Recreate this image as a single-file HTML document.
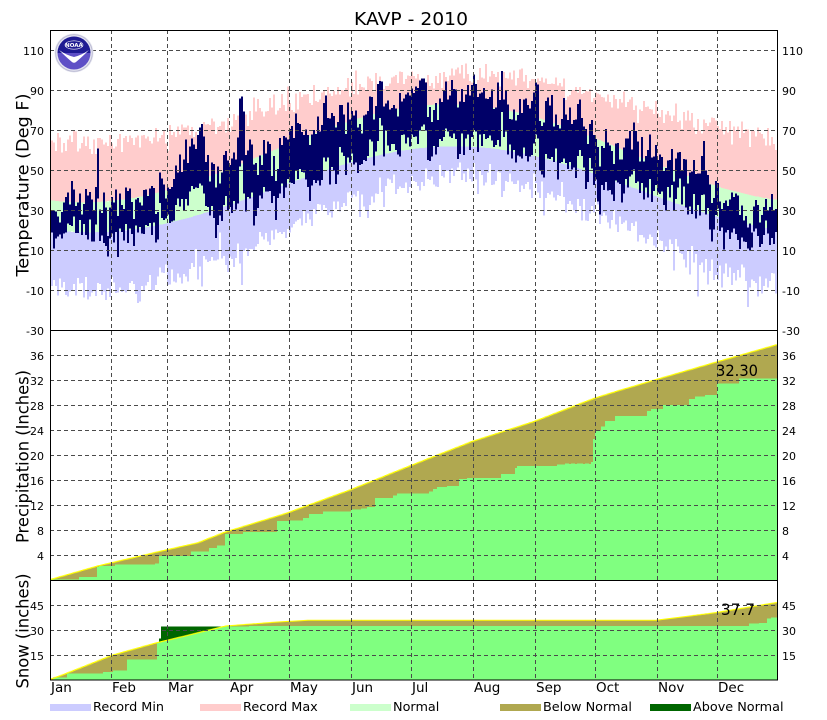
<!DOCTYPE html>
<html>
<head>
<meta charset="utf-8">
<style>
html,body{margin:0;padding:0;background:#fff;}
svg{display:block;font-family:"DejaVu Sans","Liberation Sans",sans-serif;}
</style>
</head>
<body>
<svg id="c" width="827" height="720" viewBox="0 0 827 720" xmlns="http://www.w3.org/2000/svg">
<rect x="0" y="0" width="827" height="720" fill="#fff"/>
<g id="data" shape-rendering="crispEdges"></g>
<g id="yl" fill="none" stroke="#ffff00" stroke-width="1"></g>

<!-- gridlines -->
<g stroke="#4a4a4a" stroke-width="1" stroke-dasharray="4,3" fill="none" shape-rendering="crispEdges">
  <path d="M111.5,30V680M167.5,30V680M229.5,30V680M289.5,30V680M351.5,30V680M411.5,30V680M473.5,30V680M535.5,30V680M595.5,30V680M657.5,30V680M717.5,30V680"/>
  <path d="M50,50.5H777M50,90.5H777M50,130.5H777M50,170.5H777M50,210.5H777M50,250.5H777M50,290.5H777"/>
  <path d="M50,355.5H777M50,380.5H777M50,405.5H777M50,430.5H777M50,455.5H777M50,480.5H777M50,505.5H777M50,530.5H777M50,555.5H777"/>
  <path d="M50,605.5H777M50,630.5H777M50,655.5H777"/>
</g>

<!-- frame -->
<g stroke="#000" stroke-width="1.2" fill="none" shape-rendering="crispEdges">
  <rect x="50.5" y="30.5" width="727" height="649.5"/>
  <path d="M50,330.5H777.5M50,580.5H777.5"/>
</g>

<!-- NOAA logo -->
<g transform="translate(74,53)">
  <circle r="19.5" fill="#e4e4f0"/>
  <circle r="18.3" fill="none" stroke="#b8b8d0" stroke-width="0.8"/>
  <circle r="16.5" fill="#5e4fc6"/>
  <path d="M-16.5,0 A16.5,16.5 0 0 1 16.5,0 Z" fill="#1e1a92"/>
  <path d="M-15,-3 Q-8,4 -2,9 Q0,10.5 2,9 Q8,4 15,-3 Q8,2 0,4 Q-8,2 -15,-3 Z" fill="#fff"/>
  <ellipse cx="0" cy="-8" rx="9" ry="4.2" fill="#1e1a92" stroke="#fff" stroke-width="0.6"/>
  <text x="0" y="-6" font-size="5.5" font-weight="bold" fill="#fff" text-anchor="middle">NOAA</text>
</g>

<!-- title -->
<text x="411" y="25" font-size="18" text-anchor="middle" textLength="114" lengthAdjust="spacingAndGlyphs" fill="#000">KAVP - 2010</text>

<!-- y axis titles -->
<text transform="translate(28.5,185) rotate(-90)" font-size="17" text-anchor="middle" textLength="183" lengthAdjust="spacingAndGlyphs" fill="#000">Temperature (Deg F)</text>
<text transform="translate(28.5,456.5) rotate(-90)" font-size="17" text-anchor="middle" textLength="173" lengthAdjust="spacingAndGlyphs" fill="#000">Precipitation (Inches)</text>
<text transform="translate(28.5,631) rotate(-90)" font-size="17" text-anchor="middle" textLength="115" lengthAdjust="spacingAndGlyphs" fill="#000">Snow (inches)</text>

<!-- left tick labels -->
<g font-size="11" text-anchor="end" fill="#000">
  <text x="44" y="55">110</text><text x="44" y="95">90</text><text x="44" y="135">70</text><text x="44" y="175">50</text>
  <text x="44" y="215">30</text><text x="44" y="255">10</text><text x="44" y="295">-10</text><text x="44" y="335">-30</text>
  <text x="44" y="360">36</text><text x="44" y="385">32</text><text x="44" y="410">28</text><text x="44" y="435">24</text>
  <text x="44" y="460">20</text><text x="44" y="485">16</text><text x="44" y="510">12</text><text x="44" y="535">8</text>
  <text x="44" y="560">4</text>
  <text x="44" y="610">45</text><text x="44" y="635">30</text><text x="44" y="660">15</text>
</g>
<!-- right tick labels -->
<g font-size="11" text-anchor="start" fill="#000">
  <text x="782" y="55">110</text><text x="782" y="95">90</text><text x="782" y="135">70</text><text x="782" y="175">50</text>
  <text x="782" y="215">30</text><text x="782" y="255">10</text><text x="782" y="295">-10</text><text x="782" y="335">-30</text>
  <text x="782" y="360">36</text><text x="782" y="385">32</text><text x="782" y="410">28</text><text x="782" y="435">24</text>
  <text x="782" y="460">20</text><text x="782" y="485">16</text><text x="782" y="510">12</text><text x="782" y="535">8</text>
  <text x="782" y="560">4</text>
  <text x="782" y="610">45</text><text x="782" y="635">30</text><text x="782" y="660">15</text>
</g>

<!-- month labels -->
<g font-size="13.5" fill="#000">
  <text x="51" y="692">Jan</text><text x="112" y="692">Feb</text><text x="168" y="692">Mar</text>
  <text x="230" y="692">Apr</text><text x="290" y="692">May</text><text x="352" y="692">Jun</text>
  <text x="412" y="692">Jul</text><text x="474" y="692">Aug</text><text x="536" y="692">Sep</text>
  <text x="596" y="692">Oct</text><text x="658" y="692">Nov</text><text x="718" y="692">Dec</text>
</g>

<!-- value labels -->
<text x="716" y="376" font-size="16" textLength="42" lengthAdjust="spacingAndGlyphs" fill="#000">32.30</text>
<text x="721" y="615" font-size="16" textLength="34" lengthAdjust="spacingAndGlyphs" fill="#000">37.7</text>

<!-- legend -->
<g font-size="12.8" fill="#000" shape-rendering="crispEdges">
  <rect x="50" y="704" width="41" height="7" fill="#ccccff"/><text x="93" y="711">Record Min</text>
  <rect x="200" y="704" width="41" height="7" fill="#ffcccc"/><text x="243" y="711">Record Max</text>
  <rect x="350" y="704" width="41" height="7" fill="#ccffcc"/><text x="393" y="711">Normal</text>
  <rect x="500" y="704" width="41" height="7" fill="#b0a850"/><text x="543" y="711">Below Normal</text>
  <rect x="650" y="704" width="41" height="7" fill="#006600"/><text x="693" y="711">Above Normal</text>
</g>
</svg>

<script>
(function(){
  var seed = 20100101;
  function rnd(){ seed |= 0; seed = seed + 0x6D2B79F5 | 0; var t = Math.imul(seed ^ seed >>> 15, 1 | seed); t = t + Math.imul(t ^ t >>> 7, 61 | t) ^ t; return ((t ^ t >>> 14) >>> 0) / 4294967296; }
  function gauss(){ var u = rnd() || 1e-9, v = rnd(); return Math.sqrt(-2*Math.log(u))*Math.cos(2*Math.PI*v); }
  function interp(pts, d){
    if (d <= pts[0][0]) return pts[0].slice(1);
    for (var i=1;i<pts.length;i++){
      if (d <= pts[i][0]){ var a=pts[i-1], b=pts[i], f=(d-a[0])/(b[0]-a[0]); var r=[]; for (var k=1;k<a.length;k++) r.push(a[k]+(b[k]-a[k])*f); return r; }
    }
    return pts[pts.length-1].slice(1);
  }
  function step(pts, d){ var v = pts[0][1]; for (var i=0;i<pts.length;i++){ if (pts[i][0] <= d) v = pts[i][1]; else break; } return v; }
  var s = '';
  function rect(x, w, y1, y2, c){
    if (y2 < y1){ var t=y1; y1=y2; y2=t; }
    if (y2 - y1 < 0.05) return;
    s += '<rect x="'+x+'" y="'+y1.toFixed(1)+'" width="'+w+'" height="'+(y2-y1).toFixed(1)+'" fill="'+c+'"/>';
  }
  function ty(T){ var y = 270.3 - 2*T; if (y < 31) y = 31; if (y > 330) y = 330; return y; }
  function py(P){ return 580.3 - 6.25*P; }
  function sy(S){ return 680.3 - S*25/15; }

  var tA = [[-10,32,17],[5,28,16],[15,34,20],[25,35,16],[35,28,13],[45,34,18],[55,34,21],[65,50,30],[75,60,36],[85,48,26],[95,68,40],[105,60,38],[115,62,38],[125,72,45],[135,71,45],[145,80,55],[155,79,55],[165,82,60],[175,81,60],[185,88,63],[195,86,65],[205,86,63],[215,85,62],[225,82,61],[235,85,60],[245,84,57],[255,76,50],[265,76,53],[275,67,45],[285,63,42],[295,65,44],[305,50,34],[315,54,35],[325,52,33],[335,38,22],[345,34,18],[355,32,17],[370,32,18]];
  var over = {24:[61,36],95:[86,52],96:[87,55],185:[95,70],186:[96,72],187:[96,73],188:[94,70],243:[94,68],244:[93,66]};

  var pN = [[0,0],[25,2.3],[59,4.85],[75,6.0],[88,7.65],[119,10.7],[151,14.45],[181,18.3],[212,22.2],[243,25.4],[273,29.1],[285,30.3],[305,32.2],[334,34.9],[365,37.75]];
  var pO = [[0,0.15],[15,0.55],[24,2.1],[25,2.3],[33,2.5],[53,2.7],[55,3.9],[71,4.6],[80,5.2],[84,5.6],[88,7.4],[97,7.7],[114,9.5],[120,9.6],[127,10.0],[130,10.6],[137,11.0],[151,11.3],[156,11.5],[159,11.7],[163,13.2],[172,13.6],[174,13.9],[190,14.2],[192,14.6],[194,14.9],[199,15.1],[205,16.2],[209,16.4],[226,17.0],[233,18.0],[234,18.3],[254,18.5],[258,18.65],[271,18.9],[272,22.6],[273,23.9],[276,24.6],[278,25.5],[283,26.3],[299,27.1],[301,27.4],[307,28.05],[320,29.0],[323,29.4],[328,29.65],[334,31.5],[345,32.3]];
  var sN = [[0,0],[9,4],[32,15],[54,22.4],[89,32.6],[115,35],[130,36],[304,36],[334,40.6],[365,46.8]];
  var sO = [[0,0],[2,1.8],[9,4],[27,5],[32,6],[39,12.4],[54,23],[55,25.2],[56,32.4],[100,32.6],[350,34.0],[355,34.4],[359,37.0],[361,37.7]];

  var a = 0;
  var ylP = '', ylS = '';
  for (var d=0; d<365; d++){
    var x = 49 + 2*d, w = 2;
    if (x < 50){ w -= (50-x); x = 50; }
    if (x >= 777) break;
    if (x + w > 777) w = 777 - x;
    // temperature
    var nh = 58.5 - 24.5*Math.cos(2*Math.PI*(d-17)/365);
    var nl = 40.5 - 21.5*Math.cos(2*Math.PI*(d-20)/365);
    var rmx = 81 - 17*Math.cos(2*Math.PI*(d-22)/365) + gauss()*3.2;
    var rmn = 18 - 28*Math.cos(2*Math.PI*(d-22)/365) + gauss()*3.6;
    if (rnd() < 0.035) rmn -= 5 + rnd()*9;
    if (rmx < nh + 8) rmx = nh + 8;
    if (rmn > nl - 8) rmn = nl - 8;
    rect(x, w, ty(rmn), ty(nl), '#ccccff');
    rect(x, w, ty(nl), ty(nh), '#ccffcc');
    rect(x, w, ty(nh), ty(rmx), '#ffcccc');
    var m = interp(tA, d);
    a = 0.55*a + gauss()*5;
    var H = m[0] + a + gauss()*2.8;
    var L = m[1] + 0.8*a + gauss()*2.8;
    if (over[d]){ H = over[d][0]; L = over[d][1]; }
    if (H < L + 5) H = L + 5;
    rect(x, w, ty(H), ty(L), '#000068');
    // precipitation
    var pn = interp(pN, d+1)[0], po = step(pO, d);
    rect(x, w, py(po), 580, '#80ff80');
    if (pn > po) rect(x, w, py(pn), py(po), '#b0a850');
    else rect(x, w, py(po), py(pn), '#006600');
    var yp = py(pn);
    ylP += (d===0 ? 'M'+x+','+yp.toFixed(1) : 'L'+x+','+yp.toFixed(1)) + 'H'+(x+w);
    // snow
    var sn = interp(sN, d+1)[0], so = step(sO, d);
    rect(x, w, sy(so), 680, '#80ff80');
    if (sn > so) rect(x, w, sy(sn), sy(so), '#b0a850');
    else rect(x, w, sy(so), sy(sn), '#006600');
    var ys = sy(sn);
    ylS += (d===0 ? 'M'+x+','+ys.toFixed(1) : 'L'+x+','+ys.toFixed(1)) + 'H'+(x+w);
  }
  document.getElementById('data').innerHTML = s;
  document.getElementById('yl').innerHTML = '<path d="'+ylP+'"/><path d="'+ylS+'"/>';
})();
</script>
</body>
</html>
